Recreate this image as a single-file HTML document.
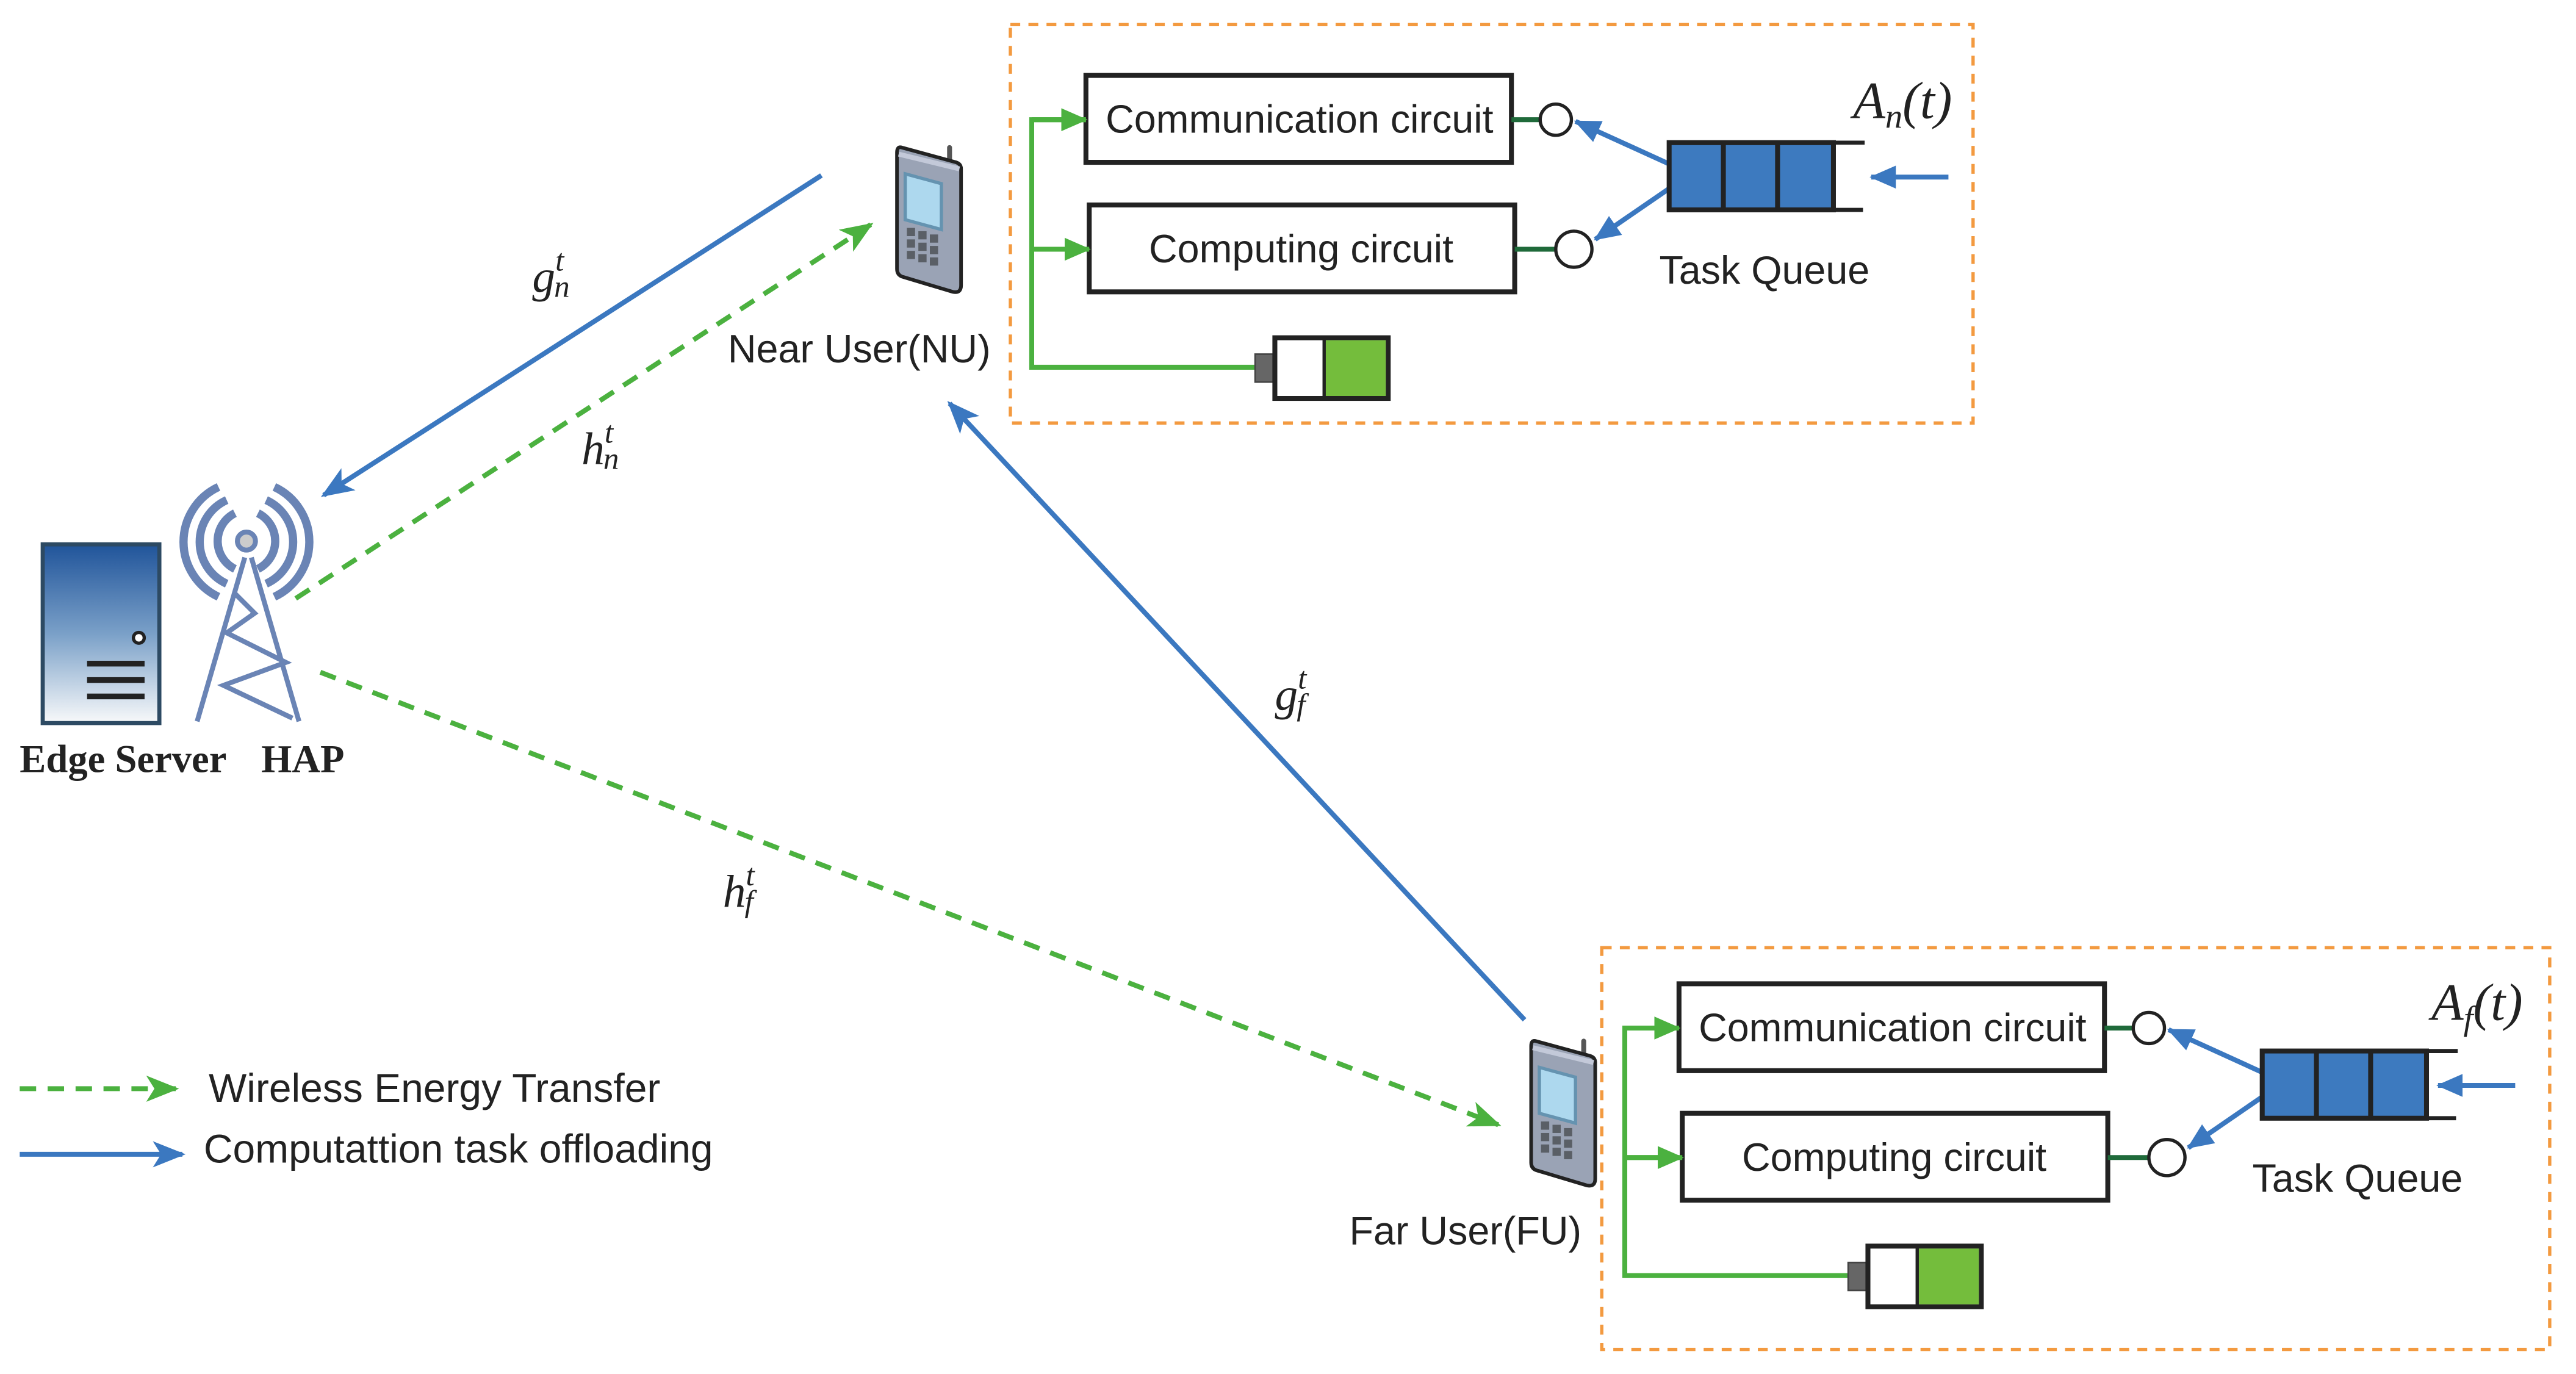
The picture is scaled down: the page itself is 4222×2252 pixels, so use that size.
<!DOCTYPE html>
<html><head><meta charset="utf-8"><style>
html,body{margin:0;padding:0;background:#fff;}
svg{display:block;}
.t{font-family:"Liberation Sans",sans-serif;fill:#222;}
.m{font-family:"Liberation Serif",serif;font-style:italic;fill:#222;}
</style></head><body>
<svg width="4222" height="2252" viewBox="0 0 1568 838" preserveAspectRatio="none" xmlns="http://www.w3.org/2000/svg">
<defs>
<marker id="abl" markerWidth="20" markerHeight="16" refX="18" refY="8" orient="auto" markerUnits="userSpaceOnUse"><path d="M0,0 L20,8 L0,16 L5,8z" fill="#3b78c0"/></marker>
<marker id="ag" markerWidth="20" markerHeight="16" refX="18" refY="8" orient="auto" markerUnits="userSpaceOnUse"><path d="M0,0 L20,8 L0,16 L5,8z" fill="#4bb13f"/></marker>
<marker id="ag2" markerWidth="16" markerHeight="14" refX="15" refY="7" orient="auto" markerUnits="userSpaceOnUse"><path d="M0,0 L16,7 L0,14z" fill="#4bb13f"/></marker>
<marker id="aq" markerWidth="16" markerHeight="14" refX="15" refY="7" orient="auto" markerUnits="userSpaceOnUse"><path d="M0,0 L16,7 L0,14z" fill="#3b78c0"/></marker>
<linearGradient id="sg" x1="0" y1="0" x2="0" y2="1"><stop offset="0" stop-color="#20549a"/><stop offset="0.5" stop-color="#7aa0c8"/><stop offset="1" stop-color="#f8f9fa"/></linearGradient>
<g id="phone">
<path d="M33,12 L33,2" stroke="#555" stroke-width="3" stroke-linecap="round"/>
<path d="M4,2 L37,11 Q40,12 40,15 L40,86 Q40,91 35,90 L5,81 Q1,80 1,76 L1,5 Q1,1 4,2z" fill="#9aa3b5" stroke="#222" stroke-width="2.2"/>
<path d="M2,6 L39,15" stroke="#c3c9d9" stroke-width="3"/>
<polygon points="6,18 28,24 28,52 6,46" fill="#add8ee" stroke="#6593b0" stroke-width="2"/>
<g fill="#5a5f66">
<rect x="7" y="51" width="5" height="5"/><rect x="14" y="53" width="5" height="5"/><rect x="21" y="55" width="5" height="5"/>
<rect x="7" y="58" width="5" height="5"/><rect x="14" y="60" width="5" height="5"/><rect x="21" y="62" width="5" height="5"/>
<rect x="7" y="65" width="5" height="5"/><rect x="14" y="67" width="5" height="5"/><rect x="21" y="69" width="5" height="5"/>
</g>
</g>
<g id="box">
<rect x="661" y="46" width="259" height="53" fill="#fff" stroke="#222" stroke-width="3"/>
<text class="t" x="791" y="81" font-size="24" text-anchor="middle">Communication circuit</text>
<rect x="663" y="125" width="259" height="53" fill="#fff" stroke="#222" stroke-width="3"/>
<text class="t" x="792" y="160" font-size="24" text-anchor="middle">Computing circuit</text>
<path d="M661,73 L628,73 L628,224 L765,224 M628,152 L661,152" fill="none" stroke="#4bb13f" stroke-width="3"/>
<path d="M628,73 L661,73" stroke="#4bb13f" stroke-width="3" marker-end="url(#ag2)"/>
<path d="M628,152 L663,152" stroke="#4bb13f" stroke-width="3" marker-end="url(#ag2)"/>
<rect x="764" y="216" width="11" height="17" fill="#666" stroke="#444"/>
<rect x="776" y="206" width="69" height="37" fill="#fff" stroke="#222" stroke-width="3"/>
<rect x="806" y="207.5" width="37.5" height="34" fill="#74bd3c"/>
<line x1="806" y1="206" x2="806" y2="243" stroke="#222" stroke-width="2"/>
<line x1="920" y1="73" x2="938" y2="73" stroke="#1f6a3a" stroke-width="3"/>
<line x1="922" y1="152" x2="948" y2="152" stroke="#1f6a3a" stroke-width="3"/>
<circle cx="947" cy="73" r="9.5" fill="#fff" stroke="#222" stroke-width="2"/>
<circle cx="958" cy="152" r="11" fill="#fff" stroke="#222" stroke-width="2"/>
<path d="M1016,100 L959,74" stroke="#3b78c0" stroke-width="3" marker-end="url(#aq)"/>
<path d="M1016,115 L971,146" stroke="#3b78c0" stroke-width="3" marker-end="url(#aq)"/>
<rect x="1016" y="87" width="100" height="41" fill="#3d7abf" stroke="#222" stroke-width="3"/>
<line x1="1049" y1="87" x2="1049" y2="128" stroke="#222" stroke-width="3"/>
<line x1="1082" y1="87" x2="1082" y2="128" stroke="#222" stroke-width="3"/>
<line x1="1116" y1="87" x2="1135" y2="87" stroke="#222" stroke-width="2.5"/>
<line x1="1116" y1="128" x2="1134" y2="128" stroke="#222" stroke-width="2.5"/>
<text class="t" x="1074" y="173" font-size="24" text-anchor="middle">Task Queue</text>
</g>
</defs>

<rect x="615" y="15" width="586" height="243" fill="none" stroke="#f39a40" stroke-width="2" stroke-dasharray="6,5"/>
<use href="#box"/>
<path d="M1186,108 L1139,108" stroke="#3b78c0" stroke-width="3" marker-end="url(#aq)"/>
<text class="m" x="1128" y="72" font-size="32">A<tspan font-size="21" dy="6">n</tspan><tspan dy="-6">(t)</tspan></text>

<rect x="975" y="578" width="577" height="245" fill="none" stroke="#f39a40" stroke-width="2" stroke-dasharray="6,5"/>
<use href="#box" transform="translate(361,554)"/>
<path d="M1531,662 L1484,662" stroke="#3b78c0" stroke-width="3" marker-end="url(#aq)"/>
<text class="m" x="1480" y="622" font-size="32">A<tspan font-size="21" dy="6">f</tspan><tspan dy="-6">(t)</tspan></text>

<!-- server -->
<rect x="26" y="332" width="71" height="109" fill="url(#sg)" stroke="#2d4a63" stroke-width="2.5"/>
<circle cx="84.5" cy="389" r="3.3" fill="#fff" stroke="#222" stroke-width="2"/>
<g fill="#222"><rect x="53" y="403" width="35" height="3.5"/><rect x="53" y="413" width="35" height="3.5"/><rect x="53" y="423" width="35" height="3.5"/></g>
<!-- tower -->
<g stroke="#6a84b5" stroke-width="3" fill="none">
<path d="M149,340 L120,440 M153,340 L182,440 M142,361 L155,374 L138,386 L174,404 L136,418 L178,438"/>
</g>
<g stroke="#6a84b5" stroke-width="5" fill="none">
<path d="M143,313 A19,19 0 0 0 143,347"/><path d="M157,313 A19,19 0 0 1 157,347"/>
<path d="M138,305 A28,28 0 0 0 138,356"/><path d="M162,305 A28,28 0 0 1 162,356"/>
<path d="M133,297 A37,37 0 0 0 133,364"/><path d="M167,297 A37,37 0 0 1 167,364"/>
</g>
<circle cx="150" cy="330" r="5.5" fill="#ccc" stroke="#6a84b5" stroke-width="3"/>
<text x="12" y="471" font-family="Liberation Serif,serif" font-weight="bold" font-size="24" fill="#222">Edge Server</text>
<text x="159" y="471" font-family="Liberation Serif,serif" font-weight="bold" font-size="24" fill="#222">HAP</text>

<!-- phones -->
<use href="#phone" transform="translate(545,88)"/>
<use href="#phone" transform="translate(931,633)"/>
<text class="t" x="523" y="221" font-size="24" text-anchor="middle">Near User(NU)</text>
<text class="t" x="892" y="759" font-size="24" text-anchor="middle">Far User(FU)</text>

<!-- links -->
<path d="M500,107 L197,302" stroke="#3b78c0" stroke-width="3" fill="none" marker-end="url(#abl)"/>
<path d="M180,365 L530,137" stroke="#4bb13f" stroke-width="3" stroke-dasharray="10,7" fill="none" marker-end="url(#ag)"/>
<path d="M928,622 L578,246" stroke="#3b78c0" stroke-width="3" fill="none" marker-end="url(#abl)"/>
<path d="M195,410 L912,686" stroke="#4bb13f" stroke-width="3" stroke-dasharray="10,7" fill="none" marker-end="url(#ag)"/>

<text class="m" x="324" y="178" font-size="28">g<tspan font-size="19" dy="-13" dx="0">t</tspan><tspan font-size="19" dy="16" dx="-6">n</tspan></text>
<text class="m" x="354" y="283" font-size="28">h<tspan font-size="19" dy="-13" dx="0">t</tspan><tspan font-size="19" dy="16" dx="-6">n</tspan></text>
<text class="m" x="776" y="433" font-size="28">g<tspan font-size="19" dy="-13" dx="0">t</tspan><tspan font-size="19" dy="16" dx="-6">f</tspan></text>
<text class="m" x="440" y="553" font-size="28">h<tspan font-size="19" dy="-13" dx="0">t</tspan><tspan font-size="19" dy="16" dx="-6">f</tspan></text>

<!-- legend -->
<path d="M12,664 L107,664" stroke="#4bb13f" stroke-width="3" stroke-dasharray="10,7" marker-end="url(#ag)"/>
<text class="t" x="127" y="672" font-size="24.5">Wireless Energy Transfer</text>
<path d="M12,704 L111,704" stroke="#3b78c0" stroke-width="3" marker-end="url(#abl)"/>
<text class="t" x="124" y="709" font-size="24.5">Computattion task offloading</text>
</svg>
</body></html>
